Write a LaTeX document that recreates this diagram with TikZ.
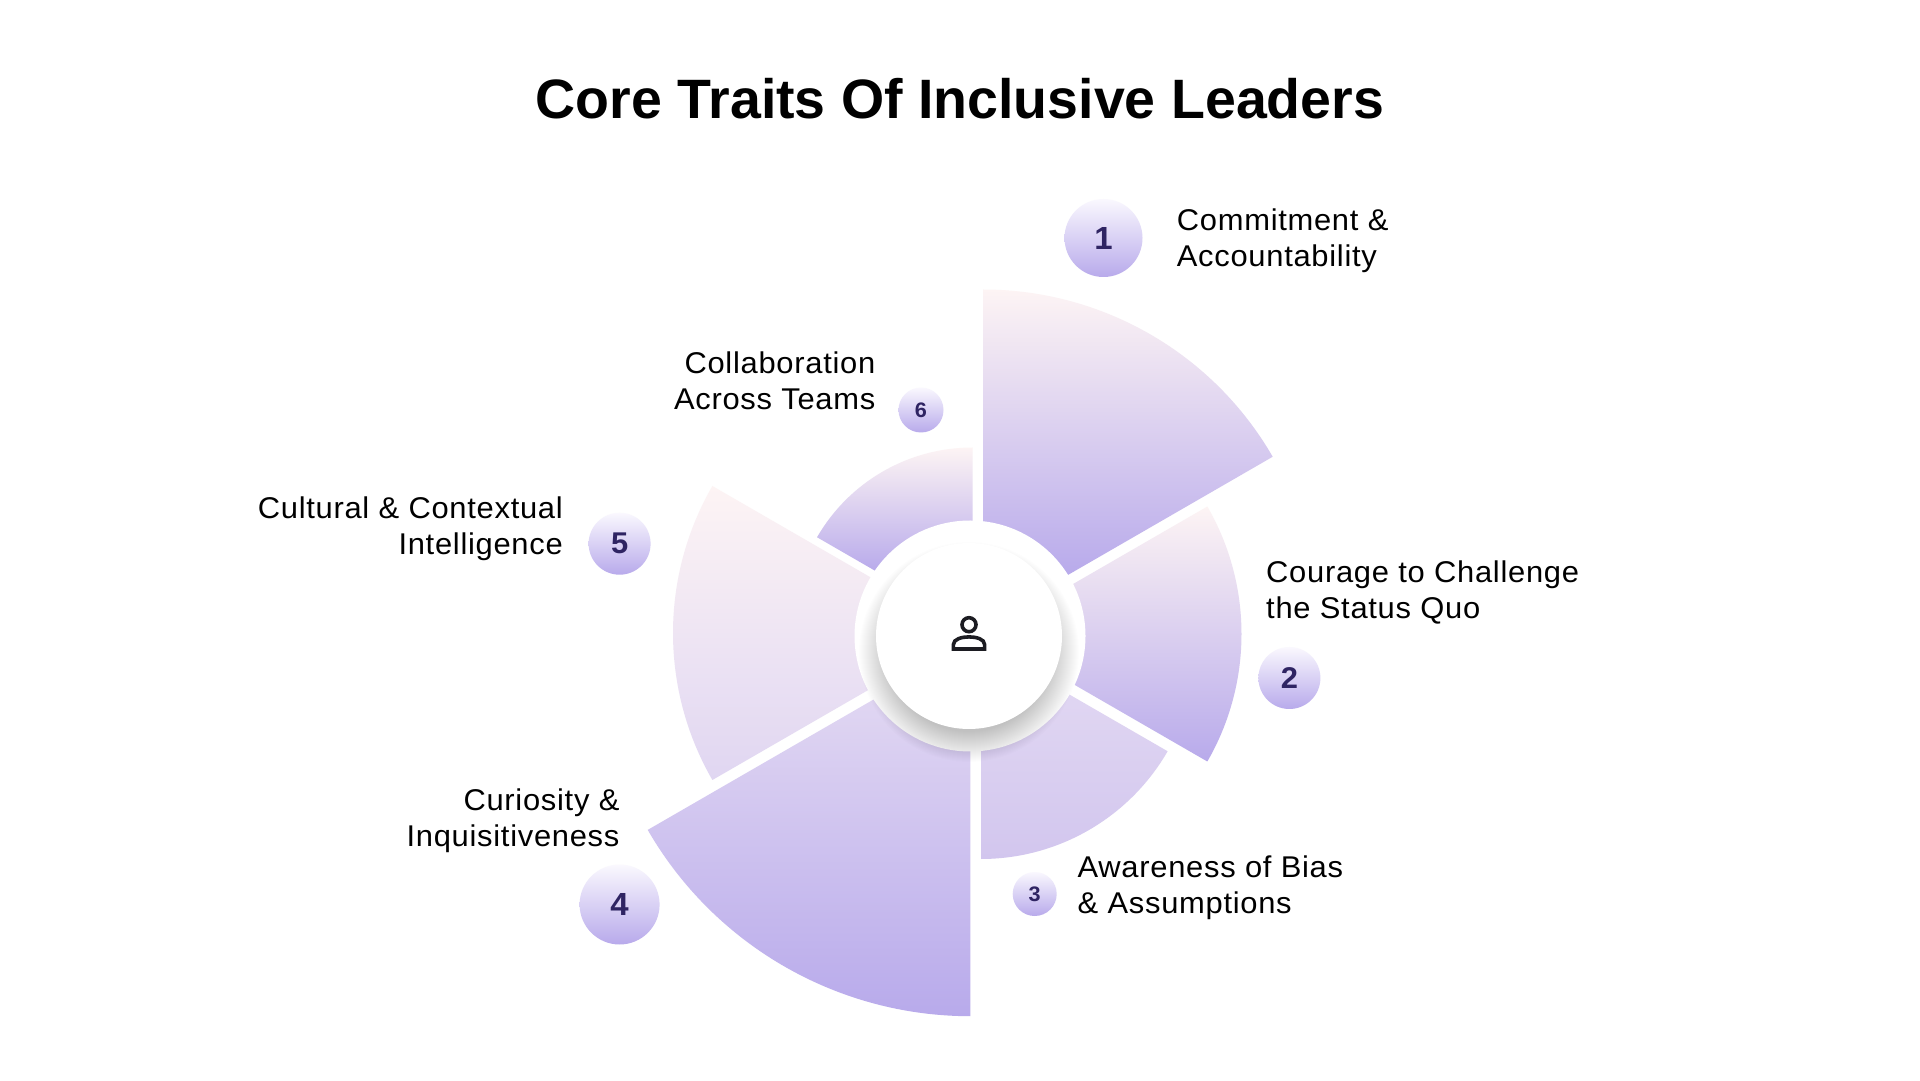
\documentclass[tikz,border=0pt]{standalone}
\usepackage{fontspec}
\setmainfont[LetterSpace=2.4,FakeStretch=1.03]{Liberation Sans}
\newfontfamily\titlefont{Liberation Sans}
\definecolor{pale}{HTML}{FDF4F4}
\definecolor{deep}{HTML}{B8AAEB}
\definecolor{midA}{HTML}{E0D6F2}
\definecolor{midB}{HTML}{D2C6EE}
\definecolor{digit}{HTML}{2F2463}
\definecolor{ink}{HTML}{1C1C22}
\definecolor{badgetop}{HTML}{FAF8FE}
\newcommand{\petal}[9]{%
  \begin{scope}[shift={(#1,1080-#2)}]
    \shade[top color=#8,bottom color=#9] (#4:#6) -- (#4:#3)
      arc[start angle=#4,end angle=#5,radius=#3] -- (#5:#7) -- cycle;
  \end{scope}}
\tikzset{
  badge/.style={circle,inner sep=0pt,top color=badgetop,bottom color=deep,
    text=digit,font=\bfseries},
  trait/.style={inner sep=0pt,font=\fontsize{30}{36}\selectfont,text=black},
  traitL/.style={trait,align=left,anchor=base west},
  traitR/.style={trait,align=right,anchor=base east},
}
\begin{document}
\begin{tikzpicture}[x=1pt,y=1pt]
\useasboundingbox (0,0) rectangle (1920,1080);
\fill[white] (0,0) rectangle (1920,1080);
% petals
\petal{983}{624}{334.5}{30}{90}{98}{101}{pale}{deep}
\petal{986.5}{634}{255}{-30}{30}{100}{100}{pale}{deep}
\petal{981}{643.5}{215.5}{-90}{-30}{107}{100}{midA}{midB}
\petal{970.4}{643.6}{372.6}{210}{270}{111}{105}{midA}{deep}
\petal{967}{633}{294}{150}{210}{110}{114}{pale}{midA}
\petal{972.5}{627}{179.5}{90}{150}{104}{111}{pale}{deep}
% white ring and soft shadow
\fill[white] (970,1080-636) circle[radius=115.5];
\foreach \r in {80,...,110}{
  \fill[black,opacity=0.0065] (969,1080-652) circle[radius=\r];
}
\node[circle,fill=white,minimum size=186pt,inner sep=0pt] (hub) at (969,1080-636) {};
% person icon
\begin{scope}[shift={(hub.center)}]
  \draw[ink,line width=3.6pt] (0,11.3) circle[radius=7];
  \draw[ink,line width=3.6pt,line join=miter] (-15.6,-13) -- (15.6,-13) -- (15.6,-8.5)
     .. controls (15.6,-3) and (7,-0.9) .. (0,-0.9)
     .. controls (-7,-0.9) and (-15.6,-3) .. (-15.6,-8.5) -- cycle;
\end{scope}
% title
\node[inner sep=0pt,anchor=base,font=\titlefont\bfseries\fontsize{55.5}{66}\selectfont] (title) at (960,1080-119) {Core Traits Of Inclusive Leaders};
% badges
\node[badge,minimum size=78pt,font=\bfseries\fontsize{32}{32}\selectfont] (b1) at (1103.5,1080-238) {1};
\node[badge,minimum size=62pt,font=\bfseries\fontsize{30}{30}\selectfont] (b2) at (1289.4,1080-678) {2};
\node[badge,minimum size=44pt,font=\bfseries\fontsize{21}{21}\selectfont] (b3) at (1034.7,1080-894) {3};
\node[badge,minimum size=80pt,font=\bfseries\fontsize{32}{32}\selectfont] (b4) at (619.6,1080-904.5) {4};
\node[badge,minimum size=62pt,font=\bfseries\fontsize{30}{30}\selectfont] (b5) at (619.6,1080-543.7) {5};
\node[badge,minimum size=45pt,font=\bfseries\fontsize{21}{21}\selectfont] (b6) at (921,1080-410) {6};
% labels
\node[traitL] (t1) at (1176.7,1080-266.7) {Commitment \&\\Accountability};
\node[traitL] (t2) at (1266,1080-619) {Courage to Challenge\\the Status Quo};
\node[traitL] (t3) at (1077.5,1080-913.5) {Awareness of Bias\\\& Assumptions};
\node[traitR] (t4) at (619.6,1080-846.8) {Curiosity \&\\Inquisitiveness};
\node[traitR] (t5) at (563,1080-555) {Cultural \& Contextual\\Intelligence};
\node[traitR] (t6) at (875.5,1080-409.6) {Collaboration\\Across Teams};
\end{tikzpicture}
\end{document}
